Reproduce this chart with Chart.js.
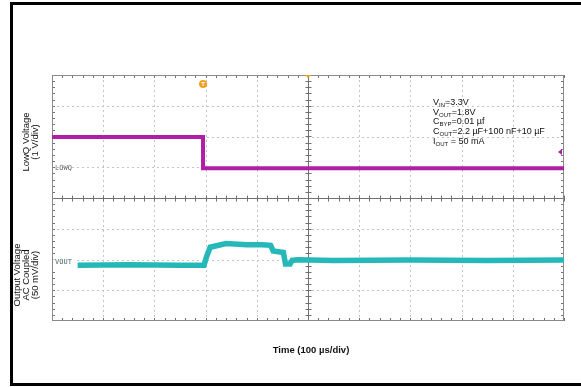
<!DOCTYPE html>
<html>
<head>
<meta charset="utf-8">
<script src="https://cdn.jsdelivr.net/npm/chart.js@4/dist/chart.umd.min.js"></script>
<style>
    html, body { margin: 0; padding: 0; background: #fff; overflow: hidden; }
    #wrap { position: relative; width: 581px; height: 387px; }
</style>
</head>
<body>
<div id="wrap"><canvas id="scope" width="581" height="387"></canvas></div>
<script>
// time axis in divisions (100 us/div), voltage in divisions
const lowqX = [0, 1.5, 2.95, 2.95, 6, 10];
const lowqY = [1.98, 1.98, 1.98, 0.97, 0.97, 0.97];

const voutX = [0.5, 1.5, 2.5, 2.97, 3.02, 3.09, 3.4, 3.8, 4.1, 4.27, 4.32, 4.52, 4.56, 4.65, 4.69, 4.8, 5.5, 7, 8.5, 10];
const voutY = [-2.19, -2.17, -2.19, -2.19, -1.9, -1.6, -1.48, -1.52, -1.52, -1.54, -1.72, -1.77, -2.15, -2.15, -2.03, -2.01, -2.03, -2.02, -2.03, -2.02];

const annotations = [
    ['V', 'IN', '=3.3V'],
    ['V', 'OUT', '=1.8V'],
    ['C', 'BYP', '=0.01 µf'],
    ['C', 'OUT', '=2.2 µF+100 nF+10 µF'],
    ['I', 'OUT', ' = 50 mA']
];

const xTitle = 'Time (100 µs/div)';
const lowqTitle = ['LowQ Voltage', '(1 V/div)'];
const voutTitle = ['Output Voltage', 'AC Coupled', '(50 mV/div)'];

function toPoints(xs, ys) {
    return xs.map((x, i) => ({x: x, y: ys[i]}));
}

const scopeGrid = {
    id: 'scopeGrid',
    beforeDatasetsDraw(chart) {
        const ctx = chart.ctx;
        const xs = chart.scales.x;
        const ys = chart.scales.y;
        const a = chart.chartArea;
        ctx.save();
        // dotted divisions
        ctx.strokeStyle = '#c4c4c4';
        ctx.lineWidth = 1;
        ctx.setLineDash([2, 3]);
        for (let i = 1; i < 10; i++) {
            if (i === 5) continue;
            const px = Math.round(xs.getPixelForValue(i)) + 0.5;
            ctx.beginPath();
            ctx.moveTo(px, a.top);
            ctx.lineTo(px, a.bottom);
            ctx.stroke();
        }
        for (let j = -3; j <= 3; j++) {
            if (j === 0) continue;
            const py = Math.round(ys.getPixelForValue(j)) + 0.5;
            ctx.beginPath();
            ctx.moveTo(a.left, py);
            ctx.lineTo(a.right, py);
            ctx.stroke();
        }
        ctx.setLineDash([]);

        // center cross with minor ticks
        const cx = Math.round(xs.getPixelForValue(5)) + 0.5;
        const cy = Math.round(ys.getPixelForValue(0)) + 0.5;
        ctx.strokeStyle = '#707070';
        ctx.beginPath();
        ctx.moveTo(cx, a.top);
        ctx.lineTo(cx, a.bottom);
        ctx.moveTo(a.left, cy);
        ctx.lineTo(a.right, cy);
        ctx.stroke();
        ctx.beginPath();
        for (let t = 0.2; t < 10; t += 0.2) {
            const px = Math.round(xs.getPixelForValue(t)) + 0.5;
            ctx.moveTo(px, cy - 3);
            ctx.lineTo(px, cy + 3);
            ctx.moveTo(px, a.top);
            ctx.lineTo(px, a.top + 3);
            ctx.moveTo(px, a.bottom);
            ctx.lineTo(px, a.bottom - 3);
        }
        for (let t = -3.8; t < 4; t += 0.2) {
            const py = Math.round(ys.getPixelForValue(t)) + 0.5;
            ctx.moveTo(cx - 3, py);
            ctx.lineTo(cx + 3, py);
            ctx.moveTo(a.right, py);
            ctx.lineTo(a.right - 3, py);
            ctx.moveTo(a.left, py);
            ctx.lineTo(a.left + 3, py);
        }
        ctx.stroke();

        // plot border
        ctx.strokeStyle = '#8a8a8a';
        ctx.strokeRect(a.left + 0.5, a.top + 0.5, a.right - a.left - 1, a.bottom - a.top - 1);
        ctx.restore();
    },
    afterDraw(chart) {
        const ctx = chart.ctx;
        const xs = chart.scales.x;
        const ys = chart.scales.y;
        const a = chart.chartArea;
        ctx.save();

        // channel labels
        ctx.font = '7px "DejaVu Sans Mono", monospace';
        ctx.textBaseline = 'middle';
        ctx.fillStyle = '#6a6a6a';
        ctx.fillText('LOWQ', a.left + 3, ys.getPixelForValue(0.97));
        ctx.fillStyle = '#fff';
        ctx.fillRect(a.left + 1, ys.getPixelForValue(-2.19) - 6, 24, 8);
        ctx.fillStyle = '#4a6a6a';
        ctx.fillText('VOUT', a.left + 3, ys.getPixelForValue(-2.19) - 3);

        // trigger markers
        const tx = xs.getPixelForValue(2.95);
        ctx.fillStyle = '#f0a020';
        ctx.beginPath();
        ctx.arc(tx, a.top + 9, 4, 0, Math.PI * 2);
        ctx.fill();
        ctx.fillStyle = '#fff';
        ctx.font = 'bold 6px Arial';
        ctx.textAlign = 'center';
        ctx.fillText('T', tx, a.top + 9);
        ctx.fillStyle = '#f0a020';
        const cx = xs.getPixelForValue(5);
        ctx.beginPath();
        ctx.moveTo(cx - 3, a.top);
        ctx.lineTo(cx + 3, a.top);
        ctx.lineTo(cx, a.top + 3);
        ctx.closePath();
        ctx.fill();

        // LowQ trigger level arrow
        ctx.fillStyle = '#b01ca8';
        const ly = ys.getPixelForValue(1.5);
        ctx.beginPath();
        ctx.moveTo(a.right - 6, ly);
        ctx.lineTo(a.right - 2, ly - 3);
        ctx.lineTo(a.right - 2, ly + 3);
        ctx.closePath();
        ctx.fill();

        // annotation block
        ctx.textAlign = 'left';
        ctx.textBaseline = 'alphabetic';
        ctx.fillStyle = '#111';
        let ay = 105;
        annotations.forEach(row => {
            let x = 433;
            ctx.font = '9px Arial';
            ctx.fillText(row[0], x, ay);
            x += ctx.measureText(row[0]).width;
            ctx.font = '6px Arial';
            ctx.fillText(row[1], x, ay + 2);
            x += ctx.measureText(row[1]).width;
            ctx.font = '9px Arial';
            ctx.fillText(row[2], x, ay);
            ay += 9.7;
        });

        // axis titles
        ctx.fillStyle = '#111';
        ctx.textAlign = 'center';
        ctx.textBaseline = 'middle';
        ctx.font = 'bold 9.5px Arial';
        ctx.fillText(xTitle, 311, 350);

        ctx.font = '9.5px Arial';
        ctx.save();
        ctx.translate(26, 142);
        ctx.rotate(-Math.PI / 2);
        ctx.fillText(lowqTitle[0], 0, 0);
        ctx.fillText(lowqTitle[1], 0, 9.5);
        ctx.restore();

        ctx.save();
        ctx.translate(17.5, 275);
        ctx.rotate(-Math.PI / 2);
        voutTitle.forEach((line, i) => ctx.fillText(line, 0, i * 8.8));
        ctx.restore();

        // outer frame, open on the right
        ctx.strokeStyle = '#000';
        ctx.lineWidth = 3;
        ctx.lineCap = 'butt';
        ctx.beginPath();
        ctx.moveTo(581, 3.5);
        ctx.lineTo(11.5, 3.5);
        ctx.lineTo(11.5, 384.5);
        ctx.lineTo(581, 384.5);
        ctx.stroke();
        ctx.restore();
    }
};

new Chart(document.getElementById('scope'), {
    type: 'line',
    data: {
        datasets: [
            {
                label: 'LOWQ',
                data: toPoints(lowqX, lowqY),
                borderColor: 'rgb(176, 30, 168)',
                borderWidth: 4,
                pointRadius: 0,
                tension: 0
            },
            {
                label: 'VOUT',
                data: toPoints(voutX, voutY),
                borderColor: 'rgb(38, 184, 184)',
                borderWidth: 5.5,
                pointRadius: 0,
                tension: 0
            }
        ]
    },
    options: {
        responsive: false,
        animation: false,
        events: [],
        layout: {
            padding: {left: 52, top: 75, right: 17, bottom: 66}
        },
        plugins: {
            legend: {display: false},
            tooltip: {enabled: false}
        },
        scales: {
            x: {type: 'linear', min: 0, max: 10, display: false},
            y: {type: 'linear', min: -4, max: 4, display: false}
        }
    },
    plugins: [scopeGrid]
});
</script>
</body>
</html>
